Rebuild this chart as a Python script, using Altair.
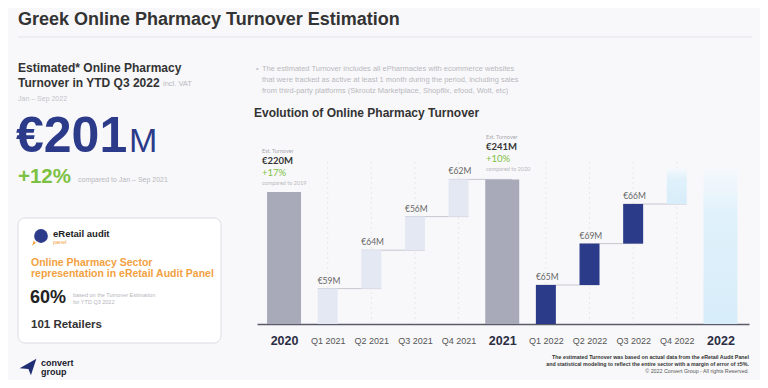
import json
import altair as alt
import pandas as pd

# ---------------- data ----------------
categories = ["2020", "Q1 2021", "Q2 2021", "Q3 2021", "Q4 2021", "2021",
              "Q1 2022", "Q2 2022", "Q3 2022", "Q4 2022", "2022"]
values = [220, 59, 64, 56, 62, 241, 65, 69, 66, 60, 261]
kinds = ["year", "q21", "q21", "q21", "q21", "year",
         "q22", "q22", "q22", "est", "estyear"]
value_labels = ["", "€59M", "€64M", "€56M", "€62M", "", "€65M", "€69M", "€66M", "", ""]

rows = []
running = 0
for i, (c, v, k, lab) in enumerate(zip(categories, values, kinds, value_labels)):
    if k in ("year", "estyear"):
        s, e = 0, v
        running = 0
    else:
        s, e = running, running + v
        running = e
    rows.append({"idx": i, "cat": c, "value": v, "kind": k, "start": s, "end": e, "label": lab})
df = pd.DataFrame(rows)

# ---------------- layout helpers ----------------
OX, OY = 257, 150          # plot-area origin in page pixels
W, H = 492, 174
FONT = "Liberation Sans"
NAVY = "#2c3a8a"
GREEN = "#7dc142"
ORANGE = "#f2a141"
one = pd.DataFrame({"k": [0]})


def txt(text, x, y, size, color="#333333", weight="normal", align="left",
        baseline="middle", font=FONT):
    return alt.Chart(one).mark_text(
        text=text, fontSize=size, color=color, fontWeight=weight, align=align,
        baseline=baseline, font=font
    ).encode(x=alt.value(x - OX), y=alt.value(y - OY))


xscale = alt.Scale(domain=[-0.505, 10.54], nice=False, zero=False)
label_expr = json.dumps(categories) + "[datum.value]"
xaxis = alt.Axis(
    values=list(range(len(categories))), labelExpr=label_expr, title=None,
    ticks=False, tickSize=0, grid=False, labelPadding=16, labelBaseline="middle",
    domainColor="#585a6a", domainWidth=1.5, labelFont=FONT,
    labelFontSize={"condition": {"test": "datum.value % 5 === 0", "value": 12.5}, "value": 9},
    labelFontWeight={"condition": {"test": "datum.value % 5 === 0", "value": "bold"}, "value": "normal"},
    labelColor={"condition": {"test": "datum.value % 5 === 0", "value": "#2b2d42"}, "value": "#555555"},
)
yscale = alt.Scale(domain=[0, 290], nice=False)


def X(field):
    return alt.X(field, type="quantitative", scale=xscale, axis=xaxis)


def Y(field):
    return alt.Y(field, type="quantitative", scale=yscale, axis=None)


base = alt.Chart(df)

grid = base.transform_filter("datum.kind != 'year' && datum.kind != 'estyear'").transform_calculate(
    top="270", bot="0"
).mark_rule(color="#e7e7ec", strokeDash=[2, 3], strokeWidth=1).encode(
    x=X("idx"), y=Y("top:Q"), y2="bot:Q")

connectors = base.transform_filter(
    "datum.kind == 'q21' || datum.kind == 'q22'"
).transform_calculate(x0="datum.idx - 0.225", x1="datum.idx + 1.225").mark_rule(
    color="#c6c7d0", strokeWidth=1
).encode(x=X("x0:Q"), x2="x1:Q", y=Y("end:Q"))

bars_year = base.transform_filter("datum.kind == 'year'").mark_bar(
    size=34, color="#a9aab9").encode(x=X("idx"), y=Y("end:Q"), y2="start:Q")
bars_q21 = base.transform_filter("datum.kind == 'q21'").mark_bar(
    size=20, color="#e4e8f3").encode(x=X("idx"), y=Y("end:Q"), y2="start:Q")
bars_q22 = base.transform_filter("datum.kind == 'q22'").mark_bar(
    size=20, color=NAVY).encode(x=X("idx"), y=Y("end:Q"), y2="start:Q")

grad = alt.LinearGradient(
    gradient="linear",
    stops=[alt.GradientStop(color="#d7edf9", offset=0),
           alt.GradientStop(color="#e0f1fb", offset=0.7),
           alt.GradientStop(color="#f6f9fc", offset=1)],
    x1=0, x2=0, y1=1, y2=0)
bars_est = base.transform_filter("datum.kind == 'est'").mark_bar(
    size=20, color=grad).encode(x=X("idx"), y=Y("end:Q"), y2="start:Q")
bars_estyear = base.transform_filter("datum.kind == 'estyear'").mark_bar(
    size=34, color=grad).encode(x=X("idx"), y=Y("end:Q"), y2="start:Q")

vlabels = base.transform_filter("datum.label != ''").mark_text(
    align="left", baseline="bottom", dx=-10, dy=-3, fontSize=8.5, color="#666666", font="Lato"
).encode(x=X("idx"), y=Y("end:Q"), text="label:N")

# ---------------- decorations / texts ----------------
layers = []
# title + separator
layers.append(txt("Greek Online Pharmacy Turnover Estimation", 18, 20, 18, "#333333", "bold"))
layers.append(alt.Chart(one).mark_rule(color="#e4e4ea", strokeWidth=1).encode(
    x=alt.value(18 - OX), x2=alt.value(752 - OX), y=alt.value(37 - OY)))

# left KPI
layers.append(txt("Estimated* Online Pharmacy", 18, 68, 12, "#333333", "bold"))
layers.append(txt("Turnover in YTD Q3 2022", 18, 83, 12, "#333333", "bold"))
layers.append(txt("incl. VAT", 163, 84, 7.5, "#b9b9c0"))
layers.append(txt("Jan – Sep 2022", 18, 99, 7, "#c4c4ca"))
layers.append(txt("€201", 16, 152, 50, NAVY, "bold", baseline="alphabetic"))
layers.append(txt("M", 129, 152, 34, NAVY, "normal", baseline="alphabetic"))
layers.append(txt("+12%", 18, 177, 20.5, GREEN, "bold"))
layers.append(txt("compared to Jan – Sep 2021", 78, 180, 7, "#b9b9c0"))

# card
layers.append(alt.Chart(one).mark_rect(
    fill="#ffffff", stroke="#dcdce2", strokeWidth=1, cornerRadius=7
).encode(x=alt.value(18 - OX), x2=alt.value(221 - OX), y=alt.value(218 - OY), y2=alt.value(343 - OY)))
layers.append(alt.Chart(one).mark_point(
    filled=True, shape="circle", size=190, color=NAVY, opacity=1
).encode(x=alt.value(41 - OX), y=alt.value(236 - OY)))
layers.append(alt.Chart(one).mark_point(
    filled=True, shape="M -1 1 L 1 -0.6 L -0.2 0.2 L -0.6 -0.4 Z", size=60, color=ORANGE, opacity=1
).encode(x=alt.value(36 - OX), y=alt.value(242 - OY)))
layers.append(txt("eRetail audit", 53, 234, 9.5, "#222222", "bold"))
layers.append(txt("panel", 53, 241.5, 5.5, ORANGE))
layers.append(txt("Online Pharmacy Sector", 31, 263, 10.5, ORANGE, "bold"))
layers.append(txt("representation in eRetail Audit Panel", 31, 274, 10.5, ORANGE, "bold"))
layers.append(txt("60%", 30, 298, 18, "#222222", "bold"))
layers.append(txt("based on the Turnover Estimation", 73, 295, 5.5, "#b5b5bc"))
layers.append(txt("for YTD Q3 2022", 73, 302, 5.5, "#b5b5bc"))
layers.append(txt("101 Retailers", 31, 325, 11.5, "#333333", "bold"))

# convert group logo
layers.append(alt.Chart(one).mark_point(
    filled=True, shape="M -1 0.15 L 1 -1 L 0.35 1 L 0.05 0.25 Z", size=280, color="#1f2d75", opacity=1
).encode(x=alt.value(28 - OX), y=alt.value(367 - OY)))
layers.append(txt("convert", 41, 363, 9, "#1a1a2e", "bold"))
layers.append(txt("group", 41, 372, 9, "#1a1a2e", "bold"))

# note + chart title
layers.append(txt("•", 256, 69, 7.5, "#c2c2c8"))
layers.append(txt("The estimated Turnover includes all ePharmacies with ecommerce websites", 262, 69, 7.5, "#b8b8be"))
layers.append(txt("that were tracked as active at least 1 month during the period, including sales", 262, 80, 7.5, "#b8b8be"))
layers.append(txt("from third-party platforms (Skroutz Marketplace, Shopflix, efood, Wolt, etc)", 262, 91, 7.5, "#b8b8be"))
layers.append(txt("Evolution of Online Pharmacy Turnover", 254, 113, 12, "#333333", "bold"))

# annual annotations
layers.append(txt("Est. Turnover", 262, 151, 5.5, "#a8a8b0", font="Lato"))
layers.append(txt("€220M", 262, 161, 9.5, "#333333", "bold", font="Lato"))
layers.append(txt("+17%", 262, 173, 9.5, GREEN, font="Lato"))
layers.append(txt("compared to 2019", 262, 182.5, 5.5, "#b9b9c0", font="Lato"))
layers.append(txt("Est. Turnover", 486, 137, 5.5, "#a8a8b0", font="Lato"))
layers.append(txt("€241M", 486, 147, 9.5, "#333333", "bold", font="Lato"))
layers.append(txt("+10%", 486, 159, 9.5, GREEN, font="Lato"))
layers.append(txt("compared to 2020", 486, 169, 5.5, "#b9b9c0", font="Lato"))

# footnote
layers.append(txt("The estimated Turnover was based on actual data from the eRetail Audit Panel",
                  749, 357, 5.3, "#333333", "bold", align="right"))
layers.append(txt("and statistical modeling to reflect the entire sector with a margin of error of ±5%.",
                  749, 364, 5.3, "#333333", "bold", align="right"))
layers.append(txt("© 2022 Convert Group - All rights Reserved.", 749, 371, 5.3, "#555555", align="right"))

chart = alt.layer(
    grid, connectors, bars_est, bars_estyear, bars_year, bars_q21, bars_q22, vlabels, *layers
).properties(
    width=W, height=H,
    padding={"left": OX - 8, "top": OY - 8, "right": 752 - (OX - 8) - W, "bottom": 372 - (OY - 8) - H},
    autosize=alt.AutoSizeParams(type="none"),
    background="#f8f8fa",
).configure_view(stroke=None)

chart.save("out.html", embed_options={"renderer": "svg", "actions": False})
